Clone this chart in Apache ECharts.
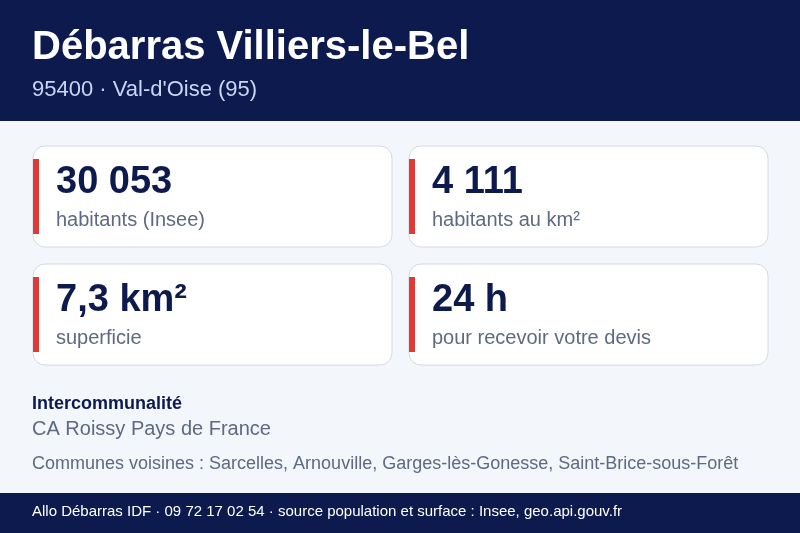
<!DOCTYPE html>
<html lang="fr">
<head>
<meta charset="UTF-8">
<title>Débarras Villiers-le-Bel</title>
<script src="https://cdn.jsdelivr.net/npm/echarts@6/dist/echarts.min.js"></script>
<style>html,body{margin:0;padding:0;background:#f3f6fb}#main{width:800px;height:533px}</style>
</head>
<body>
<div id="main"></div>
<script>
var title = 'Débarras Villiers-le-Bel';
var subtitle = '95400 · Val-d\'Oise (95)';
var cardValues = ['30 053', '4 111', '7,3 km²', '24 h'];
var cardLabels = ['habitants (Insee)', 'habitants au km²', 'superficie', 'pour recevoir votre devis'];
var interTitle = 'Intercommunalité';
var interName = 'CA Roissy Pays de France';
var voisines = 'Communes voisines : Sarcelles, Arnouville, Garges-lès-Gonesse, Saint-Brice-sous-Forêt';
var footer = 'Allo Débarras IDF · 09 72 17 02 54 · source population et surface : Insee, geo.api.gouv.fr';

var chart = echarts.init(document.getElementById('main'));
var font = '"Liberation Sans", Arial, sans-serif';
var navy = '#0c1a4e';
var gray = '#5d6a82';
var els = [
    { type: 'rect', shape: { x: 0, y: 0, width: 800, height: 533 }, style: { fill: '#f3f6fb' } },
    { type: 'rect', shape: { x: 0, y: 0, width: 800, height: 121 }, style: { fill: navy } },
    { type: 'text', x: 32, y: 48, style: { text: title, fill: '#fff', font: 'bold 40px ' + font, verticalAlign: 'middle' } },
    { type: 'text', x: 32, y: 90, style: { text: subtitle, fill: '#c9d5f2', font: '22px ' + font, verticalAlign: 'middle' } }
];
for (var i = 0; i < cardValues.length; i++) {
    var cx = 33 + (i % 2) * 376, cy = 146 + Math.floor(i / 2) * 118;
    els.push({ type: 'rect', shape: { x: cx, y: cy, width: 359, height: 101, r: 12 }, style: { fill: '#fff', stroke: '#d3d9e4', lineWidth: 1 } });
    els.push({ type: 'rect', shape: { x: cx, y: cy + 13, width: 6, height: 75 }, style: { fill: '#e03a36' } });
    els.push({ type: 'text', x: cx + 23, y: cy + 37, style: { text: cardValues[i], fill: navy, font: 'bold 38px ' + font, verticalAlign: 'middle' } });
    els.push({ type: 'text', x: cx + 23, y: cy + 74, style: { text: cardLabels[i], fill: gray, font: '20px ' + font, verticalAlign: 'middle' } });
}
els.push({ type: 'text', x: 32, y: 404, style: { text: interTitle, fill: navy, font: 'bold 18px ' + font, verticalAlign: 'middle' } });
els.push({ type: 'text', x: 32, y: 429, style: { text: interName, fill: gray, font: '20px ' + font, verticalAlign: 'middle' } });
els.push({ type: 'text', x: 32, y: 464, style: { text: voisines, fill: gray, font: '18px ' + font, verticalAlign: 'middle' } });
els.push({ type: 'rect', shape: { x: 0, y: 493, width: 800, height: 40 }, style: { fill: navy } });
els.push({ type: 'text', x: 32, y: 512, style: { text: footer, fill: '#fff', font: '15px ' + font, verticalAlign: 'middle' } });

chart.setOption({ animation: false, graphic: els });
</script>
</body>
</html>
